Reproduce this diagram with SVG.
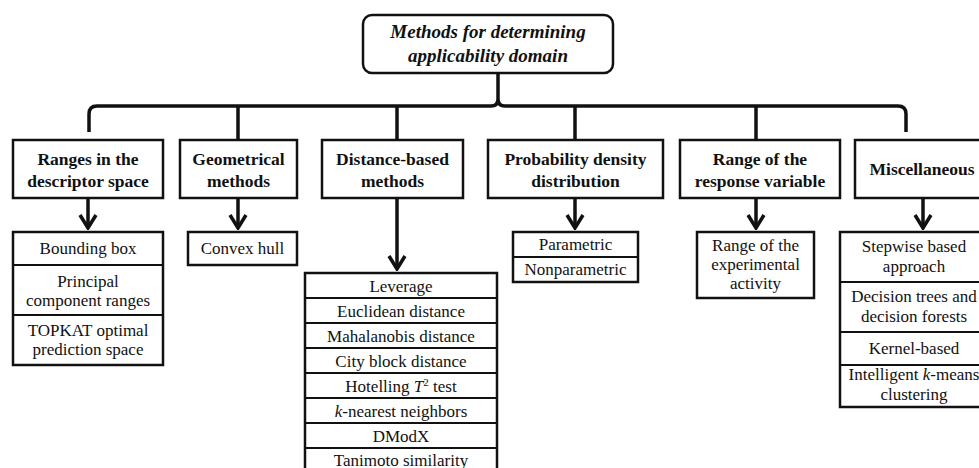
<svg xmlns="http://www.w3.org/2000/svg" width="979" height="468" viewBox="0 0 979 468">
<defs>
<style>
.box{fill:#fff;stroke:#111;stroke-width:2.5}
.div{stroke:#111;stroke-width:2}
.con{fill:none;stroke:#111;stroke-width:3.5}
.title{font-family:"Liberation Serif","Times New Roman",serif;font-size:19px;font-weight:bold;font-style:italic;fill:#111;text-anchor:middle}
.hd{font-family:"Liberation Serif","Times New Roman",serif;font-size:17.5px;font-weight:bold;fill:#111;text-anchor:middle}
.it{font-family:"Liberation Serif","Times New Roman",serif;font-size:17px;fill:#111;text-anchor:middle}
</style>
<marker id="arr" markerUnits="userSpaceOnUse" viewBox="-16 -10 18 20" markerWidth="18" markerHeight="20" refX="0" refY="0" orient="auto">
<path d="M-13,-8 L0,0 L-13,8" fill="none" stroke="#111" stroke-width="3.5"/>
</marker>
</defs>
<rect width="979" height="468" fill="#fff"/>

<g id="connectors">
<path class="con" d="M89,132 V114 Q89,106 97,106 H491 Q498,106 498,99 V73 M498,99 Q498,106 505,106 H898 Q906,106 906,114 V132"/>
<path class="con" d="M238,106 V140 M397,106 V140 M575,106 V140 M756,106 V140"/>
<path class="con" d="M88,198 V228" marker-end="url(#arr)"/>
<path class="con" d="M238,198 V228" marker-end="url(#arr)"/>
<path class="con" d="M397,198 V269" marker-end="url(#arr)"/>
<path class="con" d="M575,198 V228" marker-end="url(#arr)"/>
<path class="con" d="M756,198 V228" marker-end="url(#arr)"/>
<path class="con" d="M923,198 V228" marker-end="url(#arr)"/>
</g>

<g id="root">
<rect class="box" x="363" y="15" width="250" height="58" rx="9"/>
<text class="title" x="488" y="38">Methods for determining</text>
<text class="title" x="488" y="62">applicability domain</text>
</g>

<g id="h1">
<rect class="box" x="13" y="140" width="150" height="58"/>
<text class="hd" x="88" y="165">Ranges in the</text>
<text class="hd" x="88" y="187">descriptor space</text>
</g>
<g id="h2">
<rect class="box" x="180" y="140" width="117" height="58"/>
<text class="hd" x="238.5" y="165">Geometrical</text>
<text class="hd" x="238.5" y="187">methods</text>
</g>
<g id="h3">
<rect class="box" x="322" y="140" width="141" height="58"/>
<text class="hd" x="392.5" y="165">Distance-based</text>
<text class="hd" x="392.5" y="187">methods</text>
</g>
<g id="h4">
<rect class="box" x="488" y="140" width="175" height="58"/>
<text class="hd" x="575.5" y="165">Probability density</text>
<text class="hd" x="575.5" y="187">distribution</text>
</g>
<g id="h5">
<rect class="box" x="680" y="140" width="160" height="58"/>
<text class="hd" x="760" y="165">Range of the</text>
<text class="hd" x="760" y="187">response variable</text>
</g>
<g id="h6">
<rect class="box" x="855" y="140" width="134" height="58"/>
<text class="hd" x="922" y="175">Miscellaneous</text>
</g>

<g id="s1">
<rect class="box" x="13" y="232" width="150" height="133"/>
<line class="div" x1="13" y1="265" x2="163" y2="265"/>
<line class="div" x1="13" y1="315" x2="163" y2="315"/>
<text class="it" x="88" y="254">Bounding box</text>
<text class="it" x="88" y="287">Principal</text>
<text class="it" x="88" y="306">component ranges</text>
<text class="it" x="88" y="336">TOPKAT optimal</text>
<text class="it" x="88" y="355">prediction space</text>
</g>
<g id="s2">
<rect class="box" x="188" y="232" width="109" height="33"/>
<text class="it" x="242.5" y="254">Convex hull</text>
</g>
<g id="s3">
<rect class="box" x="305" y="273" width="192" height="210"/>
<line class="div" x1="305" y1="298" x2="497" y2="298"/>
<line class="div" x1="305" y1="323" x2="497" y2="323"/>
<line class="div" x1="305" y1="348" x2="497" y2="348"/>
<line class="div" x1="305" y1="373" x2="497" y2="373"/>
<line class="div" x1="305" y1="398" x2="497" y2="398"/>
<line class="div" x1="305" y1="423" x2="497" y2="423"/>
<line class="div" x1="305" y1="448" x2="497" y2="448"/>
<text class="it" x="401" y="291.5">Leverage</text>
<text class="it" x="401" y="316.5">Euclidean distance</text>
<text class="it" x="401" y="341.5">Mahalanobis distance</text>
<text class="it" x="401" y="366.5">City block distance</text>
<text class="it" x="401" y="391.5">Hotelling <tspan font-style="italic">T</tspan><tspan font-size="11" dy="-6">2</tspan><tspan dy="6"> test</tspan></text>
<text class="it" x="401" y="416.5"><tspan font-style="italic">k</tspan>-nearest neighbors</text>
<text class="it" x="401" y="441.5">DModX</text>
<text class="it" x="401" y="466">Tanimoto similarity</text>
</g>
<g id="s4">
<rect class="box" x="513" y="232" width="125" height="50"/>
<line class="div" x1="513" y1="257" x2="638" y2="257"/>
<text class="it" x="575.5" y="250">Parametric</text>
<text class="it" x="575.5" y="275">Nonparametric</text>
</g>
<g id="s5">
<rect class="box" x="697" y="232" width="117" height="66"/>
<text class="it" x="755.5" y="251">Range of the</text>
<text class="it" x="755.5" y="270">experimental</text>
<text class="it" x="755.5" y="289">activity</text>
</g>
<g id="s6">
<rect class="box" x="840" y="232" width="150" height="175"/>
<line class="div" x1="840" y1="282" x2="990" y2="282"/>
<line class="div" x1="840" y1="332" x2="990" y2="332"/>
<line class="div" x1="840" y1="365" x2="990" y2="365"/>
<text class="it" x="914" y="252">Stepwise based</text>
<text class="it" x="914" y="272">approach</text>
<text class="it" x="914" y="302">Decision trees and</text>
<text class="it" x="914" y="322">decision forests</text>
<text class="it" x="914" y="354">Kernel-based</text>
<text class="it" x="914" y="380">Intelligent <tspan font-style="italic">k</tspan>-means</text>
<text class="it" x="914" y="400">clustering</text>
</g>
</svg>
